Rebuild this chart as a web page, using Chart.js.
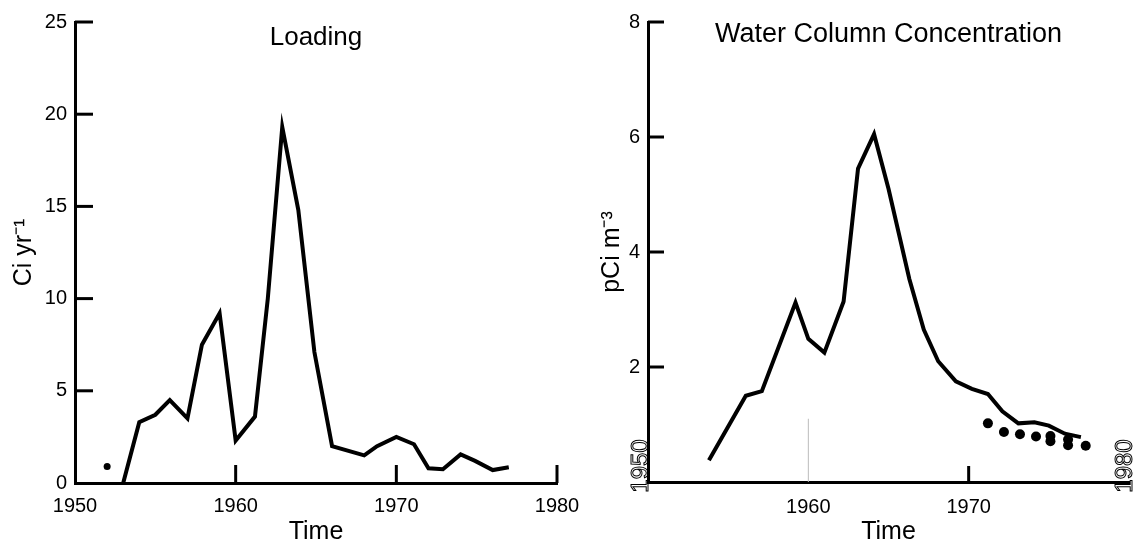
<!DOCTYPE html>
<html>
<head>
<meta charset="utf-8">
<script src="https://cdn.jsdelivr.net/npm/chart.js@4.4.0/dist/chart.umd.min.js"></script>
<style>
  body { margin: 0; background: #fff; }
  .panel { position: absolute; top: 0; height: 547px; }
  #left { left: 0; width: 600px; }
  #right { left: 580px; width: 566px; }
</style>
</head>
<body>
<div class="panel" id="left"><canvas id="loadingChart"></canvas></div>
<div class="panel" id="right"><canvas id="concChart"></canvas></div>
<script>
// Loading (Ci/yr)
const loadYears  = [1953, 1954, 1955, 1955.9, 1957, 1957.9, 1959, 1960, 1961.2, 1962, 1962.9, 1963.9, 1964.9, 1966, 1968, 1968.8, 1970, 1971.1, 1972, 1972.9, 1974, 1974.9, 1976, 1977];
const loadValues = [0,    3.3,  3.7,  4.5,    3.5,  7.5,    9.2,  2.3,  3.6,    10.0, 19.3,   14.8,   7.1,    2.0,  1.5,  2.0,    2.5,  2.1,    0.8,  0.75,   1.55, 1.2,    0.7,  0.85];
const loadDotYears  = [1952];
const loadDotValues = [0.9];

// Water column concentration (pCi/m3)
const concYears  = [1953.8, 1956.1, 1957.1, 1959.2, 1960, 1961, 1962.2, 1963.1, 1964.1, 1965, 1966.3, 1967.2, 1968.1, 1969.2, 1970.2, 1971.2, 1972.1, 1973.1, 1974.1, 1975, 1976, 1977];
const concValues = [0.38,   1.5,    1.58,   3.12,   2.49, 2.25, 3.14,   5.45,   6.05,   5.1,  3.53,   2.65,   2.1,    1.75,   1.62,   1.53,   1.23,   1.02,   1.04,   0.98, 0.84, 0.78];
const obsYears  = [1971.2, 1972.2, 1973.2, 1974.2, 1975.1, 1975.1, 1976.2, 1976.2, 1977.3];
const obsValues = [1.02,   0.87,   0.83,   0.79,   0.80,   0.71,   0.74,   0.64,   0.63];

const loadTicksX = [1960, 1970, 1980];
const loadTicksY = [5, 10, 15, 20, 25];
const concTicksY = [2, 4, 6, 8];

Chart.defaults.font.family = "'Liberation Sans', Arial, sans-serif";
Chart.defaults.color = '#000';

function pairs(xs, ys) {
  return xs.map((x, i) => ({ x: x, y: ys[i] }));
}

function inwardTicks(ctx, chart, xTicks, yTicks, len) {
  const { x, y } = chart.scales;
  const area = chart.chartArea;
  ctx.save();
  ctx.strokeStyle = '#000';
  ctx.lineWidth = 3;
  xTicks.forEach(v => {
    const px = x.getPixelForValue(v);
    ctx.beginPath();
    ctx.moveTo(px, area.bottom);
    ctx.lineTo(px, area.bottom - len);
    ctx.stroke();
  });
  yTicks.forEach(v => {
    const py = y.getPixelForValue(v);
    ctx.beginPath();
    ctx.moveTo(area.left, py);
    ctx.lineTo(area.left + len, py);
    ctx.stroke();
  });
  ctx.restore();
}

const loadingDecor = {
  id: 'loadingDecor',
  afterDraw(chart) {
    const ctx = chart.ctx;
    const area = chart.chartArea;
    inwardTicks(ctx, chart, loadTicksX, loadTicksY, 18);
    ctx.save();
    ctx.font = "26px 'Liberation Sans', Arial, sans-serif";
    ctx.fillStyle = '#000';
    ctx.textAlign = 'center';
    ctx.fillText('Loading', (area.left + area.right) / 2, 45);
    ctx.restore();
  }
};

const concDecor = {
  id: 'concDecor',
  afterDraw(chart) {
    const ctx = chart.ctx;
    const area = chart.chartArea;
    const { x, y } = chart.scales;
    inwardTicks(ctx, chart, [1970], concTicksY, 16);
    ctx.save();
    // faint line at 1960
    ctx.strokeStyle = '#bbb';
    ctx.lineWidth = 1;
    const p60 = x.getPixelForValue(1960);
    ctx.beginPath();
    ctx.moveTo(p60, area.bottom);
    ctx.lineTo(p60, y.getPixelForValue(1.1));
    ctx.stroke();

    ctx.font = "27px 'Liberation Sans', Arial, sans-serif";
    ctx.fillStyle = '#000';
    ctx.textAlign = 'center';
    ctx.fillText('Water Column Concentration', (area.left + area.right) / 2, 42);

    // scrambled end labels of the scan
    ctx.font = "24px 'Liberation Sans', Arial, sans-serif";
    ctx.strokeStyle = '#000';
    ctx.lineWidth = 1;
    ctx.textBaseline = 'middle';
    [[1950, -7], [1980, -4]].forEach(([yr, dx]) => {
      ctx.save();
      ctx.translate(x.getPixelForValue(yr) + dx, area.bottom - 16);
      ctx.rotate(-Math.PI / 2);
      ctx.strokeText(String(yr), 0, 0);
      ctx.restore();
    });
    ctx.restore();
  }
};

new Chart(document.getElementById('loadingChart'), {
  type: 'line',
  data: {
    datasets: [{
      data: pairs(loadYears, loadValues),
      borderColor: '#000',
      borderWidth: 4,
      pointRadius: 0,
      tension: 0
    }, {
      data: pairs(loadDotYears, loadDotValues),
      showLine: false,
      pointRadius: 3.5,
      pointBackgroundColor: '#000',
      pointBorderWidth: 0
    }]
  },
  options: {
    responsive: true,
    maintainAspectRatio: false,
    animation: false,
    layout: { padding: { left: 0, top: 22, right: 43, bottom: 0 } },
    plugins: { legend: { display: false }, tooltip: { enabled: false } },
    scales: {
      x: {
        type: 'linear',
        min: 1950,
        max: 1980,
        grid: { display: false, drawTicks: false },
        border: { display: true, color: '#000', width: 3 },
        ticks: { stepSize: 10, padding: 11, maxRotation: 0, font: { size: 20 }, callback: v => String(v) },
        title: { display: true, text: 'Time', font: { size: 25 }, padding: { top: 2, bottom: 0 } },
        afterFit: s => { s.height = 64; }
      },
      y: {
        min: 0,
        max: 25,
        grid: { display: false, drawTicks: false },
        border: { display: true, color: '#000', width: 3 },
        ticks: { stepSize: 5, padding: 8, font: { size: 20 } },
        title: { display: true, text: 'Ci yr\u207B\u00B9', font: { size: 25 }, padding: { top: 9, bottom: 0 } },
        afterFit: s => { s.width = 75; }
      }
    }
  },
  plugins: [loadingDecor]
});

new Chart(document.getElementById('concChart'), {
  type: 'line',
  data: {
    datasets: [{
      data: pairs(concYears, concValues),
      borderColor: '#000',
      borderWidth: 4,
      pointRadius: 0,
      tension: 0
    }, {
      data: pairs(obsYears, obsValues),
      showLine: false,
      pointRadius: 5,
      pointBackgroundColor: '#000',
      pointBorderWidth: 0
    }]
  },
  options: {
    responsive: true,
    maintainAspectRatio: false,
    animation: false,
    layout: { padding: { left: 0, top: 22, right: 17, bottom: 0 } },
    plugins: { legend: { display: false }, tooltip: { enabled: false } },
    scales: {
      x: {
        type: 'linear',
        min: 1950,
        max: 1980,
        grid: { display: false, drawTicks: false },
        border: { display: true, color: '#000', width: 3 },
        ticks: { stepSize: 10, padding: 13, maxRotation: 0, font: { size: 20 },
                 callback: v => (v === 1960 || v === 1970) ? String(v) : '' },
        title: { display: true, text: 'Time', font: { size: 25 }, padding: { top: 2, bottom: 0 } },
        afterFit: s => { s.height = 65; }
      },
      y: {
        min: 0,
        max: 8,
        grid: { display: false, drawTicks: false },
        border: { display: true, color: '#000', width: 3 },
        ticks: { stepSize: 2, padding: 8, font: { size: 20 }, callback: v => v === 0 ? '' : String(v) },
        title: { display: true, text: 'pCi m\u207B\u00B3', font: { size: 25 }, padding: { top: 17, bottom: 0 } },
        afterFit: s => { s.width = 68; }
      }
    }
  },
  plugins: [concDecor]
});
</script>
</body>
</html>
